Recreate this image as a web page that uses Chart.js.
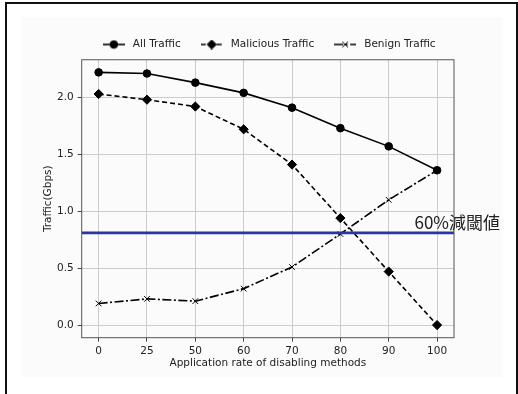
<!DOCTYPE html>
<html>
<head>
<meta charset="utf-8">
<script src="https://cdn.jsdelivr.net/npm/chart.js@4.4.0/dist/chart.umd.min.js"></script>
<style>
  html, body { margin: 0; padding: 0; background: #fff; }
  body { width: 518px; height: 394px; position: relative; overflow: hidden; }
  #frame { position: absolute; left: 5px; top: 2px; width: 509px; height: 400px; border: 2px solid #111; }
  #inner { position: absolute; left: 21px; top: 17px; width: 481px; height: 360px; background: #fbfbfb; }
  canvas { position: absolute; left: 0; top: 0; }
</style>
</head>
<body>
<div id="frame"></div>
<div id="inner"></div>
<canvas id="traffic" width="518" height="394"></canvas>
<script>
// values
const categories = ['0', '25', '50', '60', '70', '80', '90', '100'];
const allTraffic = [2.22, 2.21, 2.13, 2.04, 1.91, 1.73, 1.57, 1.36];
const maliciousTraffic = [2.03, 1.98, 1.92, 1.72, 1.41, 0.94, 0.47, 0.0];
const benignTraffic = [0.19, 0.23, 0.21, 0.32, 0.51, 0.80, 1.10, 1.36];
const threshold = 0.81;
const thresholdLabel = '60%減閾値';
const yTicks = [0, 0.5, 1.0, 1.5, 2.0];
const seriesNames = ['All Traffic', 'Malicious Traffic', 'Benign Traffic'];

const FONT = 'DejaVu Sans';
const FS = 10.5;
const xMin = -0.35, xMax = categories.length - 1 + 0.35;
const yMin = -0.111, yMax = 2.331;

const styles = [
  { dash: [], point: 'circle', radius: 3.8 },
  { dash: [5, 3], point: 'rectRot', radius: 4.6 },
  { dash: [9, 2.5, 2, 2.5], point: 'crossRot', radius: 4 }
];

function toPoints (values) {
  return values.map((v, i) => ({ x: i, y: v }))
}

// little line + marker pictures for the legend
function makeIcon (st) {
  const c = document.createElement('canvas');
  c.width = 22; c.height = 10;
  const ctx = c.getContext('2d');
  ctx.strokeStyle = '#000';
  ctx.fillStyle = '#000';
  ctx.lineWidth = 1.6;
  ctx.setLineDash(st.dash);
  ctx.beginPath();
  ctx.moveTo(0, 5);
  ctx.lineTo(22, 5);
  ctx.stroke();
  ctx.setLineDash([]);
  ctx.lineWidth = 1;
  Chart.helpers.drawPoint(ctx, { pointStyle: st.point, radius: st.radius, rotation: 0, borderWidth: 1 }, 11, 5);
  return c
}
const icons = styles.map(makeIcon);

const datasets = [allTraffic, maliciousTraffic, benignTraffic].map((vals, i) => ({
  label: seriesNames[i],
  data: toPoints(vals),
  borderColor: '#000',
  backgroundColor: '#000',
  borderWidth: 1.6,
  borderDash: styles[i].dash,
  pointStyle: styles[i].point,
  pointRadius: styles[i].radius,
  pointBorderWidth: 1,
  pointBorderColor: '#000',
  pointBackgroundColor: '#000',
  tension: 0
}));

datasets.push({
  label: thresholdLabel,
  data: [{ x: xMin, y: threshold }, { x: xMax, y: threshold }],
  borderColor: '#2b33a6',
  borderWidth: 2.6,
  pointRadius: 0,
  order: -1
});

const framePlugin = {
  id: 'frame',
  afterDatasetsDraw (chart) {
    const { ctx, chartArea: a, scales } = chart;
    ctx.save();
    ctx.strokeStyle = '#555';
    ctx.lineWidth = 1;
    ctx.strokeRect(a.left, a.top, a.right - a.left, a.bottom - a.top);
    ctx.font = '17px "Noto Sans CJK JP"';
    ctx.fillStyle = '#222';
    ctx.textAlign = 'right';
    ctx.textBaseline = 'alphabetic';
    ctx.fillText(thresholdLabel, a.right + 46, scales.y.getPixelForValue(threshold) - 4);
    ctx.restore();
  }
};

new Chart(document.getElementById('traffic'), {
  type: 'line',
  data: { datasets: datasets },
  plugins: [framePlugin],
  options: {
    responsive: false,
    animation: false,
    layout: { padding: { left: 0, right: 64, top: 22, bottom: 0 } },
    plugins: {
      tooltip: { enabled: false },
      legend: {
        position: 'top',
        fullSize: false,
        labels: {
          usePointStyle: true,
          pointStyleWidth: 27.5,
          boxHeight: 10,
          padding: 17.25,
          color: '#222',
          font: { family: FONT, size: FS },
          generateLabels (chart) {
            return seriesNames.map((name, i) => ({
              text: name,
              pointStyle: icons[i],
              datasetIndex: i,
              fontColor: '#222',
              lineWidth: 0,
              strokeStyle: 'transparent',
              fillStyle: 'transparent'
            }))
          }
        }
      }
    },
    scales: {
      x: {
        type: 'linear',
        min: xMin,
        max: xMax,
        afterBuildTicks (scale) {
          scale.ticks = categories.map((c, i) => ({ value: i }))
        },
        afterFit (scale) { scale.height = 394 - 337.7 },
        ticks: {
          padding: 3,
          color: '#222',
          font: { family: FONT, size: FS },
          callback: (v) => categories[v]
        },
        grid: { color: '#cccccc', lineWidth: 1, tickLength: 4, tickColor: '#444' },
        border: { display: false },
        title: {
          display: true,
          text: 'Application rate of disabling methods',
          color: '#222',
          font: { family: FONT, size: FS },
          padding: { top: 0, bottom: 24.4 }
        }
      },
      y: {
        min: yMin,
        max: yMax,
        afterBuildTicks (scale) {
          scale.ticks = yTicks.map(v => ({ value: v }))
        },
        afterFit (scale) { scale.width = 81.7 },
        ticks: {
          padding: 4,
          color: '#222',
          font: { family: FONT, size: FS },
          callback: (v) => v.toFixed(1)
        },
        grid: { color: '#cccccc', lineWidth: 1, tickLength: 4, tickColor: '#444' },
        border: { display: false },
        title: {
          display: true,
          text: 'Traffic(Gbps)',
          color: '#222',
          font: { family: FONT, size: FS },
          padding: { top: 42.4, bottom: 0 }
        }
      }
    }
  }
});
</script>
</body>
</html>
